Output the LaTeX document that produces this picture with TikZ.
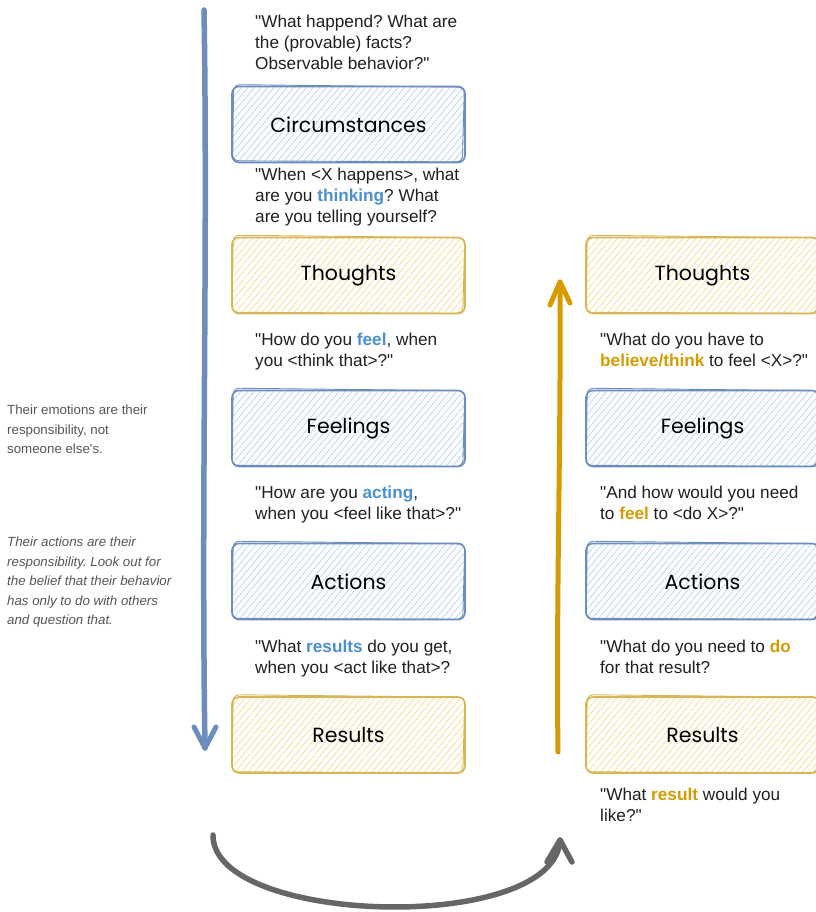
\documentclass[tikz,border=0pt]{standalone}
\usepackage{fontspec}
\setmainfont{Liberation Sans}[Ligatures=TeXOff]
\newfontfamily\handfont{Poppins}
\usetikzlibrary{patterns.meta,arrows.meta}
\definecolor{blueS}{HTML}{6C8EBF}
\definecolor{blueF}{HTML}{B9D1F2}
\definecolor{yelS}{HTML}{D6B656}
\definecolor{yelF}{HTML}{F7DC8E}
\definecolor{kwblue}{HTML}{4A90D0}
\definecolor{kworange}{HTML}{D79B00}
\definecolor{notegray}{HTML}{555555}
\definecolor{arrgray}{HTML}{666666}
\newcommand{\kb}[1]{{\bfseries\color{kwblue}#1}}
\newcommand{\ko}[1]{{\bfseries\color{kworange}#1}}
\newcommand{\qq}{\symbol{34}}
\frenchspacing
\begin{document}
\begin{tikzpicture}[x=1pt,y=-1pt,
  box/.style={minimum width=233pt, minimum height=76pt, rounded corners=7pt, line width=1.6pt,
    font=\handfont\fontsize{20.5}{24}\selectfont, text=black},
  bluebox/.style={box, draw=blueS, pattern={Lines[angle=50,distance=5pt,line width=0.7pt]}, pattern color=blueF},
  yelbox/.style={box, draw=yelS, pattern={Lines[angle=50,distance=5pt,line width=0.7pt]}, pattern color=yelF},
  question/.style={anchor=north west, align=left, font=\fontsize{17.2}{21}\selectfont, inner sep=0pt, text=black!88},
  note/.style={anchor=north west, align=left, font=\fontsize{13.3}{19.5}\selectfont, inner sep=0pt, text=notegray},
  arm/.style={line width=5pt, line cap=round, line join=round}
]
\useasboundingbox (0,0) rectangle (815,912);

% left column boxes
\node[bluebox] (circ) at (348.5,124.5) {Circumstances};
\node[yelbox]  (thL)  at (348.5,275.5) {Thoughts};
\node[bluebox] (feL)  at (348.5,428.5) {Feelings};
\node[bluebox] (acL)  at (348.5,581.5) {Actions};
\node[yelbox]  (reL)  at (348.5,735)   {Results};

% right column boxes
\node[yelbox]  (thR)  at (702.5,275.5) {Thoughts};
\node[bluebox] (feR)  at (702.5,428.5) {Feelings};
\node[bluebox] (acR)  at (702.5,581.5) {Actions};
\node[yelbox]  (reR)  at (702.5,735)   {Results};

% sketchy second outlines
\foreach \n/\c in {circ/blueS,thL/yelS,feL/blueS,acL/blueS,reL/yelS,thR/yelS,feR/blueS,acR/blueS,reR/yelS}{
  \draw[\c, line width=0.9pt, rounded corners=6pt]
    ([shift={(2,-1.5)}]\n.north west) -- ([shift={(-1,1)}]\n.north east)
    -- ([shift={(-3,-1)}]\n.south east) -- ([shift={(1,-2)}]\n.south west) -- cycle;
}

% questions, left
\node[question] (q1) at (255,15) {\qq What happend? What are\\the (provable) facts?\\Observable behavior?\qq};
\node[question] (q2) at (255,168) {\qq When <X happens>, what\\are you \kb{thinking}? What\\are you telling yourself?};
\node[question] (q3) at (255,333) {\qq How do you \kb{feel}, when\\you <think that>?\qq};
\node[question] (q4) at (255,486) {\qq How are you \kb{acting},\\when you <feel like that>?\qq};
\node[question] (q5) at (255,640) {\qq What \kb{results} do you get,\\when you <act like that>?};

% questions, right
\node[question] (r1) at (600,333) {\qq What do you have to\\\ko{believe/think} to feel <X>?\qq};
\node[question] (r2) at (600,486) {\qq And how would you need\\to \ko{feel} to <do X>?\qq};
\node[question] (r3) at (600,640) {\qq What do you need to \ko{do}\\for that result?};
\node[question] (r4) at (600,788) {\qq What \ko{result} would you\\like?\qq};

% side notes
\node[note] (n1) at (7,405) {Their emotions are their\\responsibility, not\\someone else's.};
\node[note] (n2) at (7,537) {\itshape Their actions are their\\\itshape responsibility. Look out for\\\itshape the belief that their behavior\\\itshape has only to do with others\\\itshape and question that.};

% blue down arrow
\coordinate (bS) at (204,10);
\coordinate (bT) at (205,748);
\coordinate (bA1) at (194,727);
\coordinate (bA2) at (216,727);
\draw[blueS, arm, line width=5.5pt] (bS) .. controls (208,250) and (201,500) .. (bT);
\draw[blueS, arm] (bA1) -- (bT) -- (bA2);

% orange up arrow
\coordinate (oS) at (558,752);
\coordinate (oT) at (560,282);
\coordinate (oA1) at (550,305);
\coordinate (oA2) at (570,303);
\draw[kworange, arm] (oS) .. controls (556,600) and (561,450) .. (oT);
\draw[kworange, arm] (oA1) -- (oT) -- (oA2);

% gray curved arrow
\coordinate (gS) at (213,835);
\coordinate (gT) at (560,840);
\coordinate (gA1) at (547,862);
\coordinate (gA2) at (572,862);
\draw[arrgray, arm, line width=5.5pt] (gS) .. controls (212,925) and (555,935) .. (gT);
\draw[arrgray, arm, line width=5.5pt] (gA1) -- (gT) -- (gA2);
\end{tikzpicture}
\end{document}
